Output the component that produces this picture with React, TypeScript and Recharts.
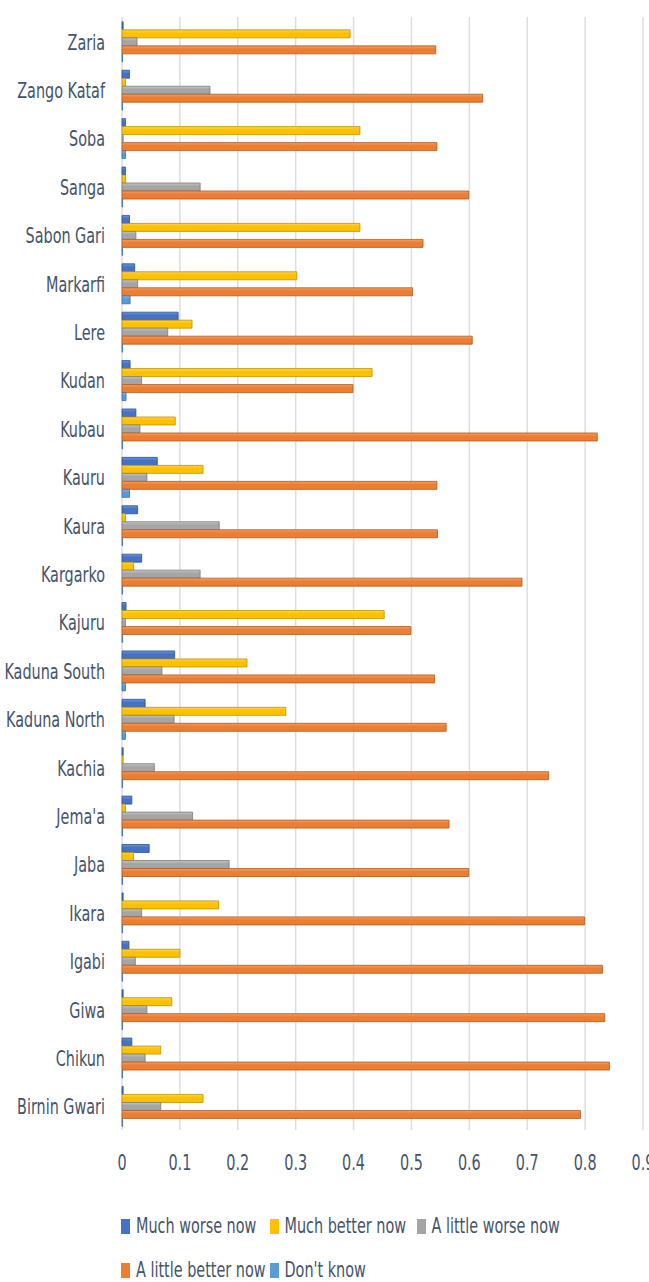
import React from 'react';
import { BarChart, Bar, XAxis, YAxis, CartesianGrid, Legend } from 'recharts';

const categories = [
  'Zaria', 'Zango Kataf', 'Soba', 'Sanga', 'Sabon Gari', 'Markarfi', 'Lere', 'Kudan', 'Kubau', 'Kauru',
  'Kaura', 'Kargarko', 'Kajuru', 'Kaduna South', 'Kaduna North', 'Kachia', "Jema'a", 'Jaba', 'Ikara',
  'Igabi', 'Giwa', 'Chikun', 'Birnin Gwari',
];
const muchWorse = [0.002, 0.013, 0.006, 0.006, 0.013, 0.022, 0.097, 0.014, 0.024, 0.061, 0.027, 0.034, 0.007, 0.091, 0.040, 0.002, 0.017, 0.047, 0.002, 0.012, 0.002, 0.017, 0.002];
const muchBetter = [0.394, 0.006, 0.411, 0.006, 0.411, 0.302, 0.121, 0.432, 0.092, 0.140, 0.006, 0.020, 0.453, 0.216, 0.283, 0.002, 0.006, 0.020, 0.167, 0.100, 0.086, 0.067, 0.140];
const littleWorse = [0.026, 0.152, 0.002, 0.135, 0.024, 0.027, 0.079, 0.034, 0.031, 0.043, 0.168, 0.135, 0.006, 0.069, 0.090, 0.056, 0.122, 0.185, 0.034, 0.023, 0.043, 0.040, 0.067];
const littleBetter = [0.542, 0.623, 0.544, 0.599, 0.520, 0.502, 0.605, 0.399, 0.821, 0.544, 0.545, 0.691, 0.499, 0.540, 0.560, 0.737, 0.565, 0.599, 0.799, 0.830, 0.834, 0.842, 0.792];
const dontKnow = [0.001, 0.001, 0.006, 0.001, 0.001, 0.014, 0.001, 0.007, 0.001, 0.013, 0.001, 0.001, 0.001, 0.006, 0.006, 0.001, 0.001, 0.001, 0.001, 0.001, 0.001, 0.001, 0.001];
const xTicks = [0, 0.1, 0.2, 0.3, 0.4, 0.5, 0.6, 0.7, 0.8, 0.9];
const xTickLabels = ['0', '0.1', '0.2', '0.3', '0.4', '0.5', '0.6', '0.7', '0.8', '0.9'];

const seriesNames = ['Much worse now', 'Much better now', 'A little worse now', 'A little better now', "Don't know"];
const seriesKeys = ['muchWorse', 'muchBetter', 'littleWorse', 'littleBetter', 'dontKnow'];
const seriesColors = ['#4472C4', '#FFC000', '#A5A5A5', '#ED7D31', '#5B9BD5'];
const seriesLight = ['#6E93D6', '#FFD54D', '#C4C4C4', '#F59E63', '#86B6E2'];
const seriesBorders = ['#2F528F', '#BF9000', '#7C7C7C', '#AE5A21', '#41719C'];

const data = categories.map((c, i) => ({
  name: c,
  muchWorse: muchWorse[i],
  muchBetter: muchBetter[i],
  littleWorse: littleWorse[i],
  littleBetter: littleBetter[i],
  dontKnow: dontKnow[i],
}));

const FONT = "'Liberation Sans Narrow', 'DejaVu Sans Condensed', 'Liberation Sans', sans-serif";
const TEXT = '#44546A';
const STRETCH = 1.3;
const FS = 16;

const YTick = (props: any) => {
  const { x, y, payload } = props;
  return (
    <g transform={`translate(${x - 17},${y + 1}) scale(1,${STRETCH})`}>
      <text x={0} y={0} dy="0.36em" textAnchor="end" fill={TEXT} fontSize={FS} fontFamily={FONT}>
        {payload.value}
      </text>
    </g>
  );
};

const XTick = (props: any) => {
  const { x, y, payload, index } = props;
  return (
    <g transform={`translate(${x},${y + 25}) scale(1,${STRETCH})`}>
      <text x={0} y={0} dy="0.36em" textAnchor="middle" fill={TEXT} fontSize={FS} fontFamily={FONT}>
        {xTickLabels[index] ?? String(payload.value)}
      </text>
    </g>
  );
};

const colLefts = [0, 148.5, 295.5];

const LegendContent = () => {
  return (
    <div style={{ position: 'relative', width: 520, height: 70 }}>
      {seriesNames.map((name, i) => {
        const row = i < 3 ? 0 : 1;
        const col = i < 3 ? i : i - 3;
        return (
          <div
            key={name}
            style={{
              position: 'absolute',
              left: colLefts[col],
              top: row * 44,
              display: 'flex',
              alignItems: 'center',
              height: 24,
              whiteSpace: 'nowrap',
            }}
          >
            <span style={{ display: 'inline-block', width: 9, height: 15, background: seriesColors[i], marginRight: 6 }} />
            <span
              style={{
                fontFamily: FONT,
                fontSize: FS,
                color: TEXT,
                display: 'inline-block',
                transform: `scaleY(${STRETCH})`,
                lineHeight: '24px',
              }}
            >
              {name}
            </span>
          </div>
        );
      })}
    </div>
  );
};

export default function App() {
  return (
    <div style={{ position: 'absolute', left: 0, top: 0, width: 649, height: 1282, background: '#fff' }}>
      <BarChart
        width={649}
        height={1282}
        data={data}
        layout="vertical"
        margin={{ top: 17, right: 6, left: 0, bottom: 112 }}
        barCategoryGap="10%"
        barGap={0}
      >
        <defs>
          {seriesKeys.map((k, i) => (
            <linearGradient key={k} id={`grad-${k}`} x1="0" y1="0" x2="0" y2="1">
              <stop offset="0%" stopColor={seriesLight[i]} />
              <stop offset="40%" stopColor={seriesColors[i]} />
              <stop offset="100%" stopColor={seriesColors[i]} />
            </linearGradient>
          ))}
        </defs>
        <CartesianGrid horizontal={false} stroke="#D9DEE9" strokeWidth={1.5} />
        <XAxis
          type="number"
          domain={[0, 0.9]}
          ticks={xTicks}
          axisLine={false}
          tickLine={false}
          height={40}
          interval={0}
          tick={<XTick />}
        />
        <YAxis
          type="category"
          dataKey="name"
          width={122}
          axisLine={false}
          tickLine={false}
          interval={0}
          tick={<YTick />}
          tickSize={0}
          tickMargin={0}
        />
        <Legend
          layout="horizontal"
          verticalAlign="middle"
          align="center"
          wrapperStyle={{ top: 1214, left: 121, width: 520, height: 70 }}
          content={<LegendContent />}
        />
        {seriesKeys.map((k, i) => (
          <Bar
            key={k}
            dataKey={k}
            name={seriesNames[i]}
            fill={`url(#grad-${k})`}
            stroke={seriesBorders[i]}
            strokeWidth={0.8}
            isAnimationActive={false}
            legendType="square"
          />
        ))}
      </BarChart>
    </div>
  );
}
